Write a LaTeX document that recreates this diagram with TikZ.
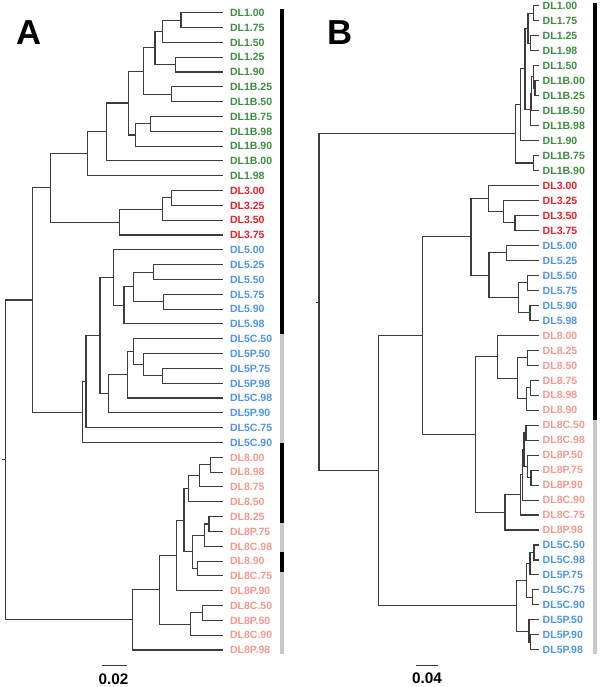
\documentclass[tikz,border=0pt]{standalone}
\usepackage{fontspec}
\setmainfont{Liberation Sans}
\usepackage{tikz}
\usetikzlibrary{calc,positioning}

\definecolor{dlone}{RGB}{61,142,64}
\definecolor{dlthree}{RGB}{236,32,40}
\definecolor{dlfive}{RGB}{78,148,232}
\definecolor{dleight}{RGB}{246,152,140}
\definecolor{bargray}{RGB}{200,200,200}
\definecolor{branchgray}{RGB}{60,60,60}

% join two children (#3 above, #4 below) at x = #2
\newcommand{\clade}[4]{%
  \coordinate (#1m) at ($(#3)!0.5!(#4)$);
  \coordinate (#1) at (#1m -| #2,0);
  \draw[branch] (#3) -| (#1) |- (#4);
}

\begin{document}
\begin{tikzpicture}[x=0.75pt, y=-0.75pt,
    branch/.style={draw=branchgray, line width=0.8pt},
    lab/.style={inner sep=0pt, outer sep=0pt, font=\bfseries\fontsize{7.9}{9}\selectfont, text height=5.7pt, text depth=0pt},
    panel/.style={inner sep=0pt, font=\bfseries\fontsize{26}{30}\selectfont},
    scalelab/.style={inner sep=0pt, font=\bfseries\fontsize{11.5}{13}\selectfont},
    barblack/.style={fill=black},
    bargrey/.style={fill=bargray}]
  \useasboundingbox (0,0) rectangle (600,687);

  % tree A
  \node[panel] (pA) at (29,33) {A};
  \foreach \txt/\col [count=\i from 0] in {
      DL1.00/dlone, DL1.75/dlone, DL1.50/dlone, DL1.25/dlone, DL1.90/dlone,
      DL1B.25/dlone, DL1B.50/dlone, DL1B.75/dlone, DL1B.98/dlone, DL1B.90/dlone,
      DL1B.00/dlone, DL1.98/dlone,
      DL3.00/dlthree, DL3.25/dlthree, DL3.50/dlthree, DL3.75/dlthree,
      DL5.00/dlfive, DL5.25/dlfive, DL5.50/dlfive, DL5.75/dlfive, DL5.90/dlfive,
      DL5.98/dlfive, DL5C.50/dlfive, DL5P.50/dlfive, DL5P.75/dlfive, DL5P.98/dlfive,
      DL5C.98/dlfive, DL5P.90/dlfive, DL5C.75/dlfive, DL5C.90/dlfive,
      DL8.00/dleight, DL8.98/dleight, DL8.75/dleight, DL8.50/dleight, DL8.25/dleight,
      DL8P.75/dleight, DL8C.98/dleight, DL8.90/dleight, DL8C.75/dleight, DL8P.90/dleight,
      DL8C.50/dleight, DL8P.50/dleight, DL8C.90/dleight, DL8P.98/dleight}{
    \coordinate (A\i) at (223,{12.7+14.82*\i});
    \node[lab, text=\col, right=5.25pt of A\i] (lA\i) {\txt};
  }

  \clade{ac1}{181}{A0}{A1}
  \clade{ac2}{162.3}{ac1}{A2}
  \clade{ac3}{175.7}{A3}{A4}
  \clade{ac4}{155}{ac2}{ac3}
  \clade{ac5}{171.7}{A5}{A6}
  \clade{ac6}{143.3}{ac4}{ac5}
  \clade{ac7}{150.7}{A7}{A8}
  \clade{ac8}{135.7}{ac7}{A9}
  \clade{ac9}{128.7}{ac6}{ac8}
  \clade{ac10}{106.3}{ac9}{A10}
  \clade{ac11}{87.3}{ac10}{A11}
  \clade{ac12}{171.7}{A12}{A13}
  \clade{ac13}{162.3}{ac12}{A14}
  \clade{ac14}{119.3}{ac13}{A15}
  \clade{ac15}{50.7}{ac11}{ac14}

  \clade{ac16}{153.3}{A17}{A18}
  \clade{ac17}{163.3}{A19}{A20}
  \clade{ac18}{133.3}{ac16}{ac17}
  \clade{ac19}{124}{ac18}{A21}
  \clade{ac20}{113.7}{A16}{ac19}
  \clade{ac21}{162.3}{A24}{A25}
  \clade{ac22}{143.3}{A23}{ac21}
  \clade{ac23}{133.3}{A22}{ac22}
  \clade{ac24}{127.7}{ac23}{A26}
  \clade{ac25}{108.7}{ac24}{A27}
  \clade{ac26}{100}{ac20}{ac25}
  \clade{ac27}{86}{ac26}{A28}
  \clade{ac28}{82.7}{ac27}{A29}
  \clade{ac29}{32.7}{ac15}{ac28}

  \clade{ac30}{210.7}{A30}{A31}
  \clade{ac31}{199.3}{ac30}{A32}
  \clade{ac32}{188.3}{ac31}{A33}
  \clade{ac33}{209}{A34}{A35}
  \clade{ac34}{204.3}{ac33}{A36}
  \clade{ac35}{197.7}{A37}{A38}
  \clade{ac36}{192.3}{ac34}{ac35}
  \clade{ac37}{184}{ac32}{ac36}
  \clade{ac38}{176.7}{ac37}{A39}
  \clade{ac39}{202.3}{A40}{A41}
  \clade{ac40}{190.3}{ac39}{A42}
  \clade{ac41}{159.3}{ac38}{ac40}
  \clade{ac42}{132.3}{ac41}{A43}
  \clade{ac43}{5.7}{ac29}{ac42}
  \coordinate (aroot) at (ac43 -| 2,0);
  \draw[branch] (aroot) -- (ac43);

  \fill[barblack] (279.5,9) rectangle (283.5,334);
  \fill[bargrey] (279.5,334) rectangle (283.5,443);
  \fill[barblack] (279.5,443) rectangle (283.5,523);
  \fill[bargrey] (279.5,523) rectangle (283.5,552);
  \fill[barblack] (279.5,552) rectangle (283.5,572);
  \fill[bargrey] (279.5,572) rectangle (283.5,654);

  \coordinate (sA1) at (101.7,665.7);
  \coordinate (sA2) at (126.7,665.7);
  \draw[branch] (sA1) -- (sA2);
  \node[scalelab] (sA) at (113.5,679.3) {0.02};

  % tree B
  \node[panel] (pB) at (340.5,32.5) {B};
  \foreach \txt/\col [count=\i from 0] in {
      DL1.00/dlone, DL1.75/dlone, DL1.25/dlone, DL1.98/dlone, DL1.50/dlone,
      DL1B.00/dlone, DL1B.25/dlone, DL1B.50/dlone, DL1B.98/dlone, DL1.90/dlone,
      DL1B.75/dlone, DL1B.90/dlone,
      DL3.00/dlthree, DL3.25/dlthree, DL3.50/dlthree, DL3.75/dlthree,
      DL5.00/dlfive, DL5.25/dlfive, DL5.50/dlfive, DL5.75/dlfive, DL5.90/dlfive,
      DL5.98/dlfive,
      DL8.00/dleight, DL8.25/dleight, DL8.50/dleight, DL8.75/dleight, DL8.98/dleight,
      DL8.90/dleight, DL8C.50/dleight, DL8C.98/dleight, DL8P.50/dleight, DL8P.75/dleight,
      DL8P.90/dleight, DL8C.90/dleight, DL8C.75/dleight, DL8P.98/dleight,
      DL5C.50/dlfive, DL5C.98/dlfive, DL5P.75/dlfive, DL5C.75/dlfive, DL5C.90/dlfive,
      DL5P.50/dlfive, DL5P.90/dlfive, DL5P.98/dlfive}{
    \coordinate (B\i) at (539,{5.7+14.98*\i});
    \node[lab, text=\col, right=2.8pt of B\i] (lB\i) {\txt};
  }

  \clade{bc1}{533.3}{B0}{B1}
  \clade{bc2}{530.7}{B2}{B3}
  \clade{bc3}{528}{bc1}{bc2}
  \clade{bc4}{535}{B5}{B6}
  \clade{bc5}{533.3}{B4}{bc4}
  \clade{bc6}{531.3}{bc5}{B7}
  \clade{bc7}{530.3}{bc6}{B8}
  \clade{bc8}{525}{bc3}{bc7}
  \clade{bc9}{520.7}{bc8}{B9}
  \clade{bc10}{533.3}{B10}{B11}
  \clade{bc11}{515.7}{bc9}{bc10}

  \clade{bc12}{515}{B14}{B15}
  \clade{bc13}{503.3}{B13}{bc12}
  \clade{bc14}{488.3}{B12}{bc13}
  \clade{bc15}{506.7}{B16}{B17}
  \clade{bc16}{527.5}{B18}{B19}
  \clade{bc17}{530}{B20}{B21}
  \clade{bc18}{518.3}{bc16}{bc17}
  \clade{bc19}{489}{bc15}{bc18}
  \clade{bc20}{471}{bc14}{bc19}

  \clade{bc21}{527.7}{B23}{B24}
  \clade{bc22}{530.7}{B25}{B26}
  \clade{bc23}{526.7}{bc22}{B27}
  \clade{bc24}{517.3}{bc21}{bc23}
  \clade{bc25}{497.7}{B22}{bc24}
  \clade{bc26}{526}{B28}{B29}
  \clade{bc27}{531}{B31}{B32}
  \clade{bc28}{527.3}{B30}{bc27}
  \clade{bc29}{524}{bc26}{bc28}
  \clade{bc30}{522.7}{bc29}{B33}
  \clade{bc31}{520.7}{bc30}{B34}
  \clade{bc32}{505}{bc31}{B35}
  \clade{bc33}{475.7}{bc25}{bc32}
  \clade{bc34}{422.7}{bc20}{bc33}

  \clade{bc35}{534}{B36}{B37}
  \clade{bc36}{530}{bc35}{B38}
  \clade{bc37}{532.3}{B39}{B40}
  \clade{bc38}{526.7}{bc36}{bc37}
  \clade{bc39}{530.7}{B42}{B43}
  \clade{bc40}{529}{B41}{bc39}
  \clade{bc41}{516.7}{bc38}{bc40}
  \clade{bc42}{378.3}{bc34}{bc41}
  \clade{bc43}{319}{bc11}{bc42}
  \coordinate (broot) at (bc43 -| 316,0);
  \draw[branch] (broot) -- (bc43);

  \fill[barblack] (593,3) rectangle (597,420);
  \fill[bargrey] (593,420) rectangle (597,654);

  \coordinate (sB1) at (416,665.7);
  \coordinate (sB2) at (438.3,665.7);
  \draw[branch] (sB1) -- (sB2);
  \node[scalelab] (sB) at (427,678.5) {0.04};
\end{tikzpicture}
\end{document}
